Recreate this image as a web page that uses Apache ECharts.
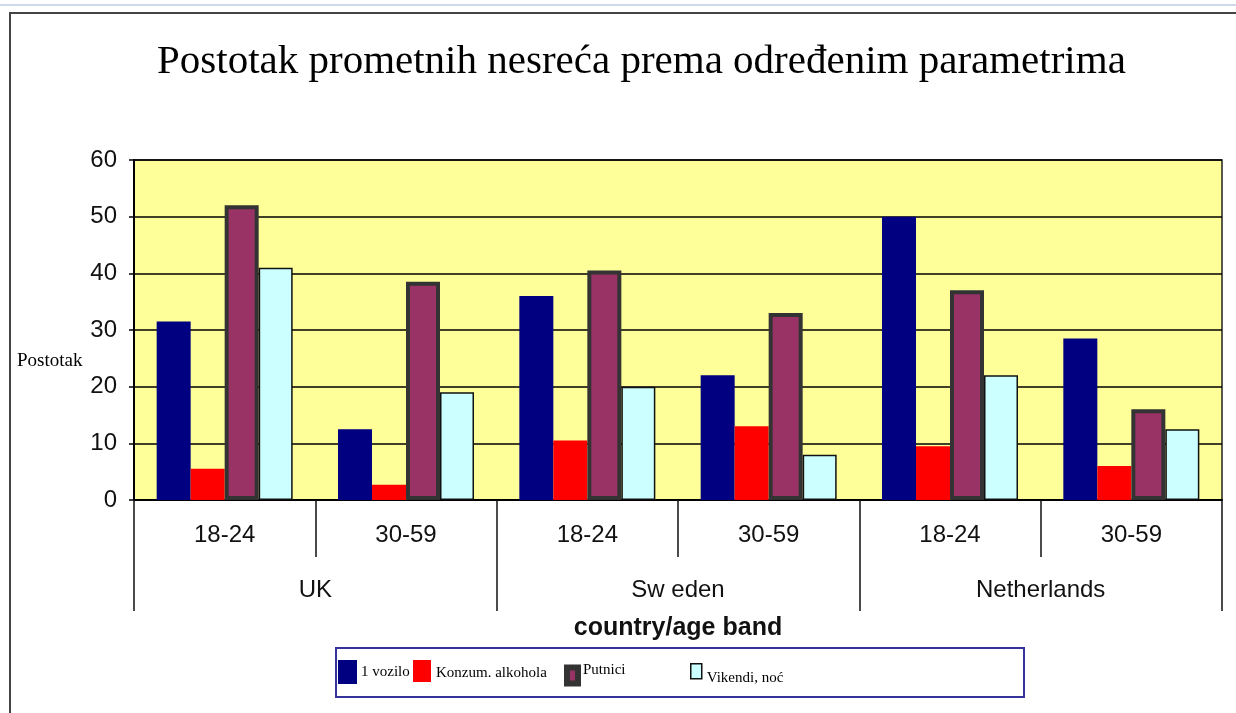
<!DOCTYPE html>
<html>
<head>
<meta charset="utf-8">
<script src="https://cdn.jsdelivr.net/npm/echarts@6/dist/echarts.min.js"></script>
<style>
  html, body { margin: 0; padding: 0; background: #fff; }
  #chart { width: 1236px; height: 713px; }
</style>
</head>
<body>
<div id="chart"></div>
<script>
// age bands repeat per country
const ageBands = ['18-24', '30-59', '18-24', '30-59', '18-24', '30-59']
const countries = ['UK', 'Sw eden', 'Netherlands']
const yTicks = [0, 10, 20, 30, 40, 50, 60]

const jednoVozilo = [31.5, 12.5, 36, 22, 50, 28.5]
const alkohol = [5.5, 2.7, 10.5, 13, 9.5, 6]
const putnici = [52, 38.5, 40.5, 33, 37, 16]
const vikendi = [41, 19, 20, 8, 22, 12.5]

const seriesNames = ['1 vozilo', 'Konzum. alkohola', 'Putnici', 'Vikendi, noć']

const sans = 'Liberation Sans, Arial, sans-serif'
const serif = 'Liberation Serif, Times New Roman, serif'

const styles = [
  { color: '#000080', borderColor: '#000080', borderWidth: 2 },
  { color: '#ff0000' },
  { color: '#993366', borderColor: '#333333', borderWidth: 4 },
  { color: '#ccffff', borderColor: '#111111', borderWidth: 1.5 },
]

const legendPos = [
  { left: 338, top: 660, w: 17, h: 22, pad: [0, 0, 0, 0] },
  { left: 413, top: 660, w: 18, h: 22, pad: [4, 0, 0, 0] },
  { left: 564, top: 663, w: 11, h: 16, pad: [0, 0, 10, 0] },
  { left: 690, top: 663, w: 11, h: 15, pad: [13, 0, 0, 0] },
]

const legendIcons = [
  { color: '#000080' },
  { color: '#ff0000' },
  { color: '#993366', borderColor: '#333333', borderWidth: 6 },
  { color: '#ccffff', borderColor: '#111111', borderWidth: 1.5 },
]

const chart = echarts.init(document.getElementById('chart'))

chart.setOption({
  animation: false,
  title: [
    {
      text: 'Postotak prometnih nesreća prema određenim parametrima',
      left: 152,
      top: 37,
      textStyle: { fontFamily: serif, fontSize: 41, fontWeight: 'normal', color: '#000' },
    },
    {
      text: 'Postotak',
      left: 12,
      top: 347,
      textStyle: { fontFamily: serif, fontSize: 19, fontWeight: 'normal', color: '#000' },
    },
  ],
  graphic: [
    { type: 'line', shape: { x1: 0, y1: 5, x2: 1236, y2: 5 }, style: { stroke: '#cfd8e8', lineWidth: 2 } },
    { type: 'rect', shape: { x: 10, y: 13, width: 1240, height: 720 }, style: { fill: 'none', stroke: '#444', lineWidth: 2 } },
    { type: 'rect', shape: { x: 336, y: 648, width: 688, height: 49 }, style: { fill: 'none', stroke: '#333399', lineWidth: 2 } },
  ],
  legend: seriesNames.map((name, i) => ({
    data: [{ name, icon: 'rect', itemStyle: legendIcons[i] }],
    left: legendPos[i].left,
    top: legendPos[i].top,
    padding: 0,
    itemWidth: legendPos[i].w,
    itemHeight: legendPos[i].h,
    formatter: '{t|{name}}',
    textStyle: {
      fontFamily: serif,
      fontSize: 15,
      color: '#000',
      rich: { t: { fontFamily: serif, fontSize: 15, color: '#000', padding: legendPos[i].pad } },
    },
  })),
  grid: {
    left: 134,
    right: 14,
    top: 160,
    bottom: 213,
    show: true,
    backgroundColor: '#ffff99',
    borderColor: '#222',
    borderWidth: 1.5,
  },
  xAxis: [
    {
      type: 'category',
      data: ageBands,
      axisLine: { lineStyle: { color: '#000', width: 2 } },
      axisTick: { show: true, interval: 0, length: 57, lineStyle: { color: '#111', width: 1.5 } },
      axisLabel: { interval: 0, margin: 23, fontFamily: sans, fontSize: 24, color: '#111' },
    },
    {
      type: 'category',
      data: countries,
      position: 'bottom',
      axisLine: { show: false },
      axisTick: { show: true, interval: 0, length: 111, lineStyle: { color: '#111', width: 1.5 } },
      axisLabel: { interval: 0, margin: 78, fontFamily: sans, fontSize: 24, color: '#111' },
      name: 'country/age band',
      nameLocation: 'middle',
      nameGap: 116,
      nameTextStyle: { fontFamily: sans, fontSize: 25, fontWeight: 'bold', color: '#111' },
    },
  ],
  yAxis: {
    type: 'value',
    min: yTicks[0],
    max: yTicks[yTicks.length - 1],
    interval: 10,
    axisLine: { show: true, lineStyle: { color: '#000', width: 2 } },
    axisTick: { show: true, length: 5, lineStyle: { color: '#000', width: 1.5 } },
    axisLabel: { margin: 17, fontFamily: sans, fontSize: 24, color: '#111' },
    splitLine: { lineStyle: { color: '#000', width: 1.5 } },
  },
  series: [jednoVozilo, alkohol, putnici, vikendi].map((values, i) => ({
    name: seriesNames[i],
    type: 'bar',
    xAxisIndex: 0,
    data: values,
    barWidth: 34,
    barGap: '0%',
    itemStyle: styles[i],
  })),
})
</script>
</body>
</html>
